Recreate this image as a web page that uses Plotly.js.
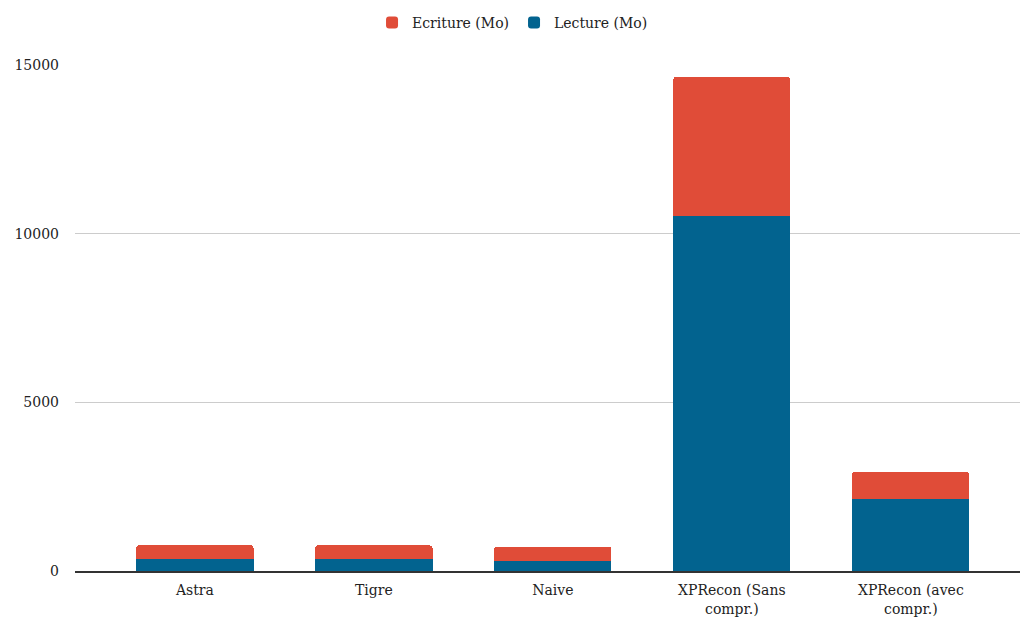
<!DOCTYPE html>
<html>
<head>
<meta charset="utf-8">
<script src="https://cdn.plot.ly/plotly-3.0.1.min.js"></script>
<style>html,body{margin:0;padding:0;background:#fff;}#chart{width:1020px;height:618px;}</style>
</head>
<body>
<div id="chart"></div>
<script>
const categories = ["Astra", "Tigre", "Naive", "XPRecon (Sans<br>compr.)", "XPRecon (avec<br>compr.)"];
const lecture = [350, 345, 310, 10525, 2125];
const ecriture = [410, 415, 405, 4120, 810];
const seriesNames = ["Lecture (Mo)", "Ecriture (Mo)"];
const tickVals = [0, 5000, 10000, 15000];

const font = {family: "'DejaVu Serif', serif", size: 14, color: "#222"};

const traces = [
  {type: "bar", name: seriesNames[0], x: categories, y: lecture,
   marker: {color: "#02638f"}, width: 0.655, hoverinfo: "y"},
  {type: "bar", name: seriesNames[1], x: categories, y: ecriture,
   marker: {color: "#e04c38"}, width: 0.655, hoverinfo: "y"}
];

const layout = {
  width: 1020, height: 618,
  margin: {l: 75, r: 0, t: 65, b: 46.5},
  barmode: "stack",
  barcornerradius: 3,
  paper_bgcolor: "#fff", plot_bgcolor: "#fff",
  font: font,
  showlegend: true,
  legend: {orientation: "h", traceorder: "reversed", x: 0.463, xanchor: "center",
           y: 1.083, yanchor: "middle", font: font, itemwidth: 30},
  xaxis: {range: [-0.67, 4.61], showgrid: false, showline: true, linecolor: "#333",
          linewidth: 1.5, ticks: "", ticklabelstandoff: 6, tickfont: font, fixedrange: true},
  yaxis: {range: [0, 15000], tickvals: tickVals, ticktext: tickVals.map(String),
          showgrid: true, gridcolor: "#cccccc", gridwidth: 1, zeroline: false,
          ticks: "", ticklabelstandoff: 15, tickfont: font, fixedrange: true}
};

Plotly.newPlot("chart", traces, layout, {displayModeBar: false, staticPlot: true});
</script>
</body>
</html>
